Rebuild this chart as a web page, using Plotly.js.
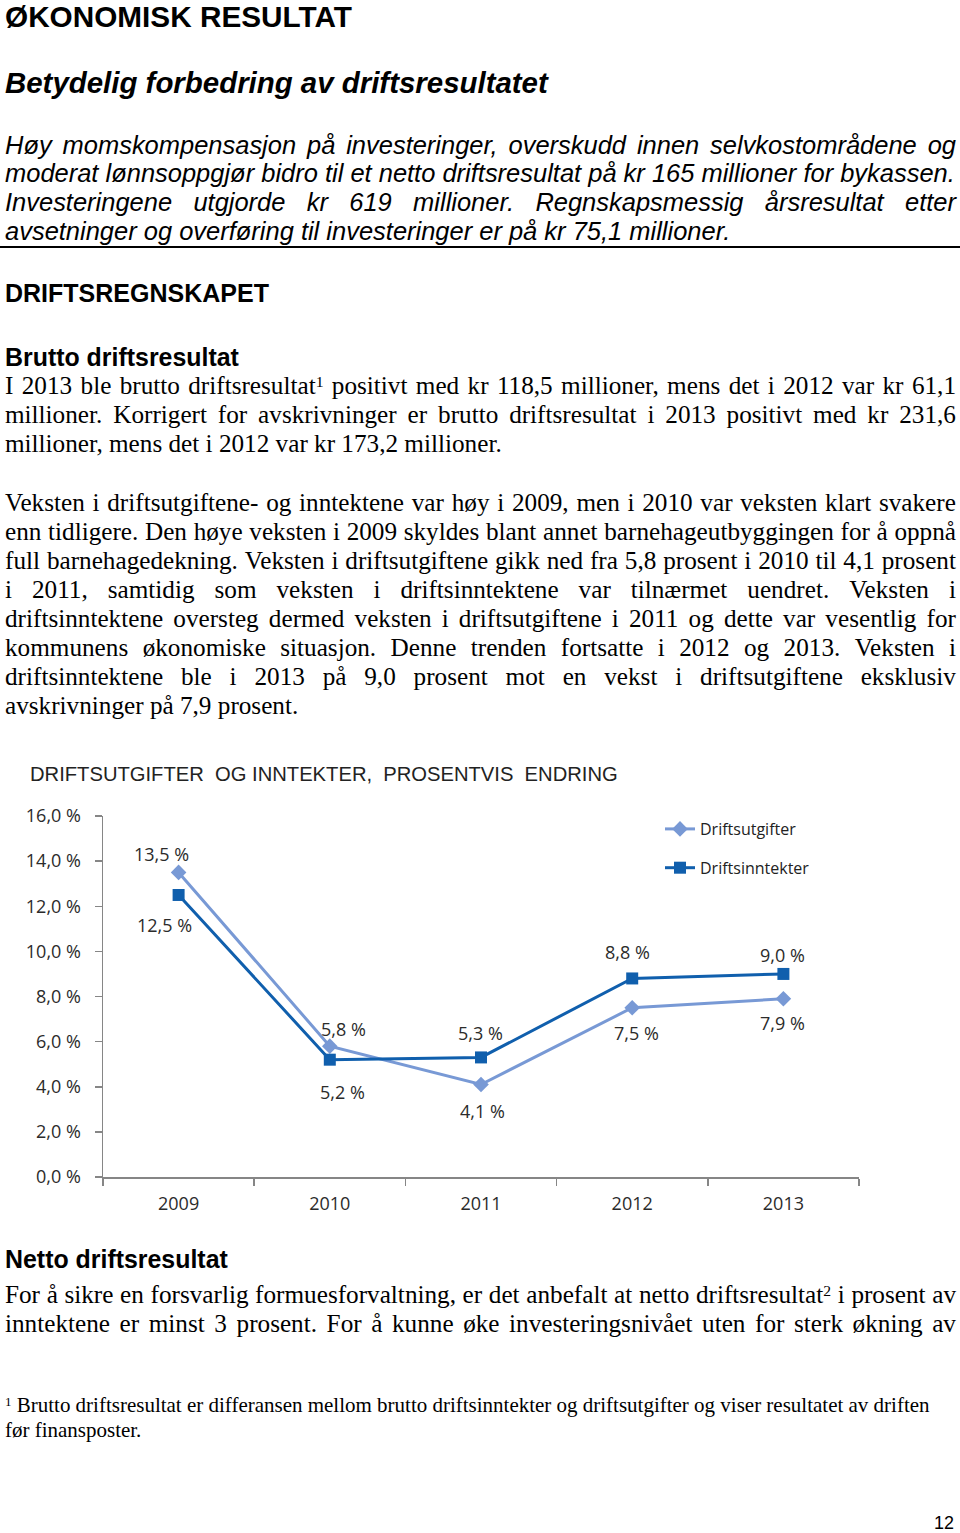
<!DOCTYPE html>
<html>
<head>
<meta charset="utf-8">
<script src="https://cdn.plot.ly/plotly-3.0.1.min.js"></script>
<style>
  html, body { margin:0; padding:0; background:#fff; }
  #page { position:relative; width:960px; height:1533px; overflow:hidden; color:#000; }
  .blk { position:absolute; left:0; top:0; width:960px; }
  .ln { position:absolute; left:5px; width:951px; white-space:nowrap; }
  .sans { font-family:"Liberation Sans", Arial, sans-serif; }
  .serif { font-family:"Liberation Serif", "Times New Roman", serif; }
  sup { position:relative; top:-0.45em; font-size:0.62em; line-height:0; vertical-align:baseline; }
  #hr { position:absolute; left:0; top:246px; width:960px; height:2px; background:#000; }
  #chart { position:absolute; left:0; top:750px; width:960px; height:470px; }
</style>
</head>
<body>
<div id="page">

  <div class="blk sans" id="b1" style="font-size:29px;font-weight:bold;">
    <div class="ln" style="top:3.5px;height:26px;line-height:26px;"><span class="ref">ØKONOMISK RESULTAT</span></div>
  </div>

  <div class="blk sans" id="b2" style="font-size:28px;font-weight:bold;font-style:italic;">
    <div class="ln" style="top:67px;height:32px;line-height:32px;"><span class="ref">Betydelig forbedring av driftsresultatet</span></div>
  </div>

  <div class="blk sans" id="b3" style="font-size:23px;font-style:italic;">
    <div class="ln j" style="top:131px;height:29px;line-height:29px;">Høy momskompensasjon på investeringer, overskudd innen selvkostområdene og</div>
    <div class="ln" style="top:159px;height:29px;line-height:29px;"><span class="ref">moderat lønnsoppgjør bidro til et netto driftsresultat på kr 165 millioner for bykassen.</span></div>
    <div class="ln j" style="top:188px;height:29px;line-height:29px;">Investeringene utgjorde kr 619 millioner. Regnskapsmessig årsresultat etter</div>
    <div class="ln" style="top:217px;height:29px;line-height:29px;">avsetninger og overføring til investeringer er på kr 75,1 millioner.</div>
  </div>

  <div id="hr"></div>

  <div class="blk sans" id="b4" style="font-size:24px;font-weight:bold;">
    <div class="ln" style="top:278px;height:30px;line-height:30px;"><span class="ref">DRIFTSREGNSKAPET</span></div>
  </div>

  <div class="blk sans" id="b5" style="font-size:23px;font-weight:bold;">
    <div class="ln" style="top:342px;height:30px;line-height:30px;"><span class="ref">Brutto driftsresultat</span></div>
  </div>

  <div class="blk serif" id="b6" style="font-size:22px;">
    <div class="ln j" style="top:371px;height:29px;line-height:29px;">I 2013 ble brutto driftsresultat<sup>1</sup> positivt med kr 118,5 millioner, mens det i 2012 var kr 61,1</div>
    <div class="ln j" style="top:400px;height:29px;line-height:29px;">millioner. Korrigert for avskrivninger er brutto driftsresultat i 2013 positivt med kr 231,6</div>
    <div class="ln" style="top:429px;height:29px;line-height:29px;"><span class="ref">millioner, mens det i 2012 var kr 173,2 millioner.</span></div>

    <div class="ln j" style="top:488px;height:29px;line-height:29px;">Veksten i driftsutgiftene- og inntektene var høy i 2009, men i 2010 var veksten klart svakere</div>
    <div class="ln j" style="top:517px;height:29px;line-height:29px;">enn tidligere. Den høye veksten i 2009 skyldes blant annet barnehageutbyggingen for å oppnå</div>
    <div class="ln j" style="top:546px;height:29px;line-height:29px;">full barnehagedekning. Veksten i driftsutgiftene gikk ned fra 5,8 prosent i 2010 til 4,1 prosent</div>
    <div class="ln j" style="top:575px;height:29px;line-height:29px;">i 2011, samtidig som veksten i driftsinntektene var tilnærmet uendret. Veksten i</div>
    <div class="ln j" style="top:604px;height:29px;line-height:29px;">driftsinntektene oversteg dermed veksten i driftsutgiftene i 2011 og dette var vesentlig for</div>
    <div class="ln j" style="top:633px;height:29px;line-height:29px;">kommunens økonomiske situasjon. Denne trenden fortsatte i 2012 og 2013. Veksten i</div>
    <div class="ln j" style="top:662px;height:29px;line-height:29px;">driftsinntektene ble i 2013 på 9,0 prosent mot en vekst i driftsutgiftene eksklusiv</div>
    <div class="ln" style="top:691px;height:29px;line-height:29px;">avskrivninger på 7,9 prosent.</div>

    <div class="ln j" style="top:1280px;height:29px;line-height:29px;">For å sikre en forsvarlig formuesforvaltning, er det anbefalt at netto driftsresultat<sup>2</sup> i prosent av</div>
    <div class="ln j" style="top:1309px;height:29px;line-height:29px;">inntektene er minst 3 prosent. For å kunne øke investeringsnivået uten for sterk økning av</div>
  </div>

  <div class="blk sans" id="b7" style="font-size:23px;font-weight:bold;">
    <div class="ln" style="top:1244px;height:30px;line-height:30px;"><span class="ref">Netto driftsresultat</span></div>
  </div>

  <div class="blk serif" id="b8" style="font-size:19px;">
    <div class="ln" style="top:1393px;height:25px;line-height:25px;"><span class="ref"><sup>1</sup> Brutto driftsresultat er differansen mellom brutto driftsinntekter og driftsutgifter og viser resultatet av driften</span></div>
    <div class="ln" style="top:1418px;height:25px;line-height:25px;">før finansposter.</div>
  </div>

  <div class="blk sans" id="b9" style="font-size:17px;">
    <div class="ln" style="left:934px;width:auto;top:1512.5px;height:20px;line-height:20px;"><span class="ref">12</span></div>
  </div>

  <div id="chart"></div>
</div>

<script>
// ---------- chart data ----------
const years = ['2009', '2010', '2011', '2012', '2013'];
const driftsutgifter = [13.5, 5.8, 4.1, 7.5, 7.9];
const driftsinntekter = [12.5, 5.2, 5.3, 8.8, 9.0];
const yTickVals = [0, 2, 4, 6, 8, 10, 12, 14, 16];
const yTickText = ['0,0 %', '2,0 %', '4,0 %', '6,0 %', '8,0 %', '10,0 %', '12,0 %', '14,0 %', '16,0 %'];
const seriesNames = ['Driftsutgifter', 'Driftsinntekter'];
const chartTitle = 'DRIFTSUTGIFTER\u00a0 OG INNTEKTER,\u00a0 PROSENTVIS\u00a0 ENDRING';

// ---------- text fitting ----------
function fitBlock(id, target) {
  const b = document.getElementById(id);
  const s = b.querySelector('.ref');
  const fs = parseFloat(getComputedStyle(b).fontSize);
  const w = s.getBoundingClientRect().width;
  if (w > 0) b.style.fontSize = (fs * target / w) + 'px';
}
fitBlock('b1', 347);
fitBlock('b2', 543);
fitBlock('b3', 950);
fitBlock('b4', 264);
fitBlock('b5', 234);
fitBlock('b6', 497);
fitBlock('b7', 223);
fitBlock('b8', 925);
fitBlock('b9', 20);

document.querySelectorAll('.j').forEach(el => {
  const words = el.innerHTML.trim().split(/\s+/);
  el.innerHTML = words.map(w => '<span>' + w + '</span>').join('');
  el.style.display = 'flex';
  el.style.justifyContent = 'space-between';
});

// ---------- chart ----------
const fmt = v => v.toFixed(1).replace('.', ',') + ' %';
const cUtg = '#7899d5';
const cInn = '#105fad';
const labelFont = { family: 'Open Sans, sans-serif', size: 18, color: '#2b2b2b' };

const traces = [
  {
    x: years, y: driftsutgifter, name: seriesNames[0], type: 'scatter', mode: 'lines+markers',
    line: { color: cUtg, width: 3 }, marker: { symbol: 'diamond', size: 12, color: cUtg },
    legendgroup: 'a'
  },
  {
    x: years, y: driftsinntekter, name: seriesNames[1], type: 'scatter', mode: 'lines+markers',
    line: { color: cInn, width: 3 }, marker: { symbol: 'square', size: 12, color: cInn },
    legendgroup: 'b'
  }
];

const utgShiftX = [-17, 14, 1, 4, -1];
const utgShiftY = [18, 17, -27, -25, -24];
const innShiftX = [-14, 13, -1, -5, -1];
const innShiftY = [-30, -32, 24, 26, 19];

const annotations = [];
years.forEach((yr, i) => {
  annotations.push({ x: i, y: driftsutgifter[i], xref: 'x', yref: 'y', text: fmt(driftsutgifter[i]), showarrow: false,
    xshift: utgShiftX[i], yshift: utgShiftY[i], font: labelFont });
  annotations.push({ x: i, y: driftsinntekter[i], xref: 'x', yref: 'y', text: fmt(driftsinntekter[i]), showarrow: false,
    xshift: innShiftX[i], yshift: innShiftY[i], font: labelFont });
});

const layout = {
  width: 960, height: 470,
  margin: { l: 103, r: 101, t: 66, b: 43 },
  paper_bgcolor: '#fff', plot_bgcolor: '#fff',
  showlegend: true,
  title: {
    text: chartTitle,
    font: { family: 'Liberation Sans, Arial, sans-serif', size: 20.2, color: '#222' },
    x: 30 / 960, xref: 'container', xanchor: 'left',
    y: 1 - 24 / 470, yref: 'container', yanchor: 'middle'
  },
  xaxis: {
    type: 'category', range: [-0.5, 4.5], tickson: 'boundaries',
    ticks: 'outside', ticklen: 7, tickcolor: '#868686', tickwidth: 1.5,
    showline: true, linecolor: '#868686', linewidth: 1.5,
    showgrid: false, zeroline: false,
    tickfont: labelFont, ticklabelstandoff: 10, fixedrange: true
  },
  yaxis: {
    range: [0, 16], tickvals: yTickVals, ticktext: yTickText,
    ticks: 'outside', ticklen: 7, tickcolor: '#868686', tickwidth: 1.5,
    showline: true, linecolor: '#868686', linewidth: 1.5,
    showgrid: false, zeroline: false,
    tickfont: labelFont, ticklabelstandoff: 10, fixedrange: true
  },
  legend: {
    x: (660 - 103) / 756, y: 1.0 + 4 / 361, xanchor: 'left', yanchor: 'top',
    xref: 'paper', yref: 'paper',
    font: { family: 'Open Sans, sans-serif', size: 16, color: '#222' },
    traceorder: 'grouped', tracegroupgap: 15, bgcolor: 'rgba(0,0,0,0)'
  },
  annotations: annotations
};

Plotly.newPlot('chart', traces, layout, { staticPlot: true, displayModeBar: false });
</script>
</body>
</html>
